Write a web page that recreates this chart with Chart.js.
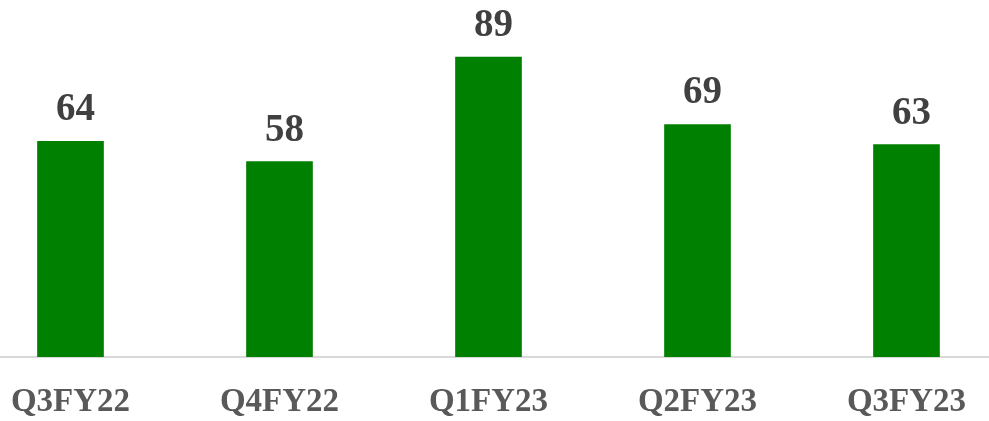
<!DOCTYPE html>
<html>
<head>
<meta charset="utf-8">
<script src="https://cdn.jsdelivr.net/npm/chart.js@4/dist/chart.umd.min.js"></script>
<style>
html,body{margin:0;padding:0;background:#fff;overflow:hidden;width:989px;height:421px;position:relative;}
canvas{display:block;position:absolute;left:-34px;top:0;}
</style>
</head>
<body>
<canvas id="c" width="1045" height="421"></canvas>
<script>
const categories = ["Q3FY22", "Q4FY22", "Q1FY23", "Q2FY23", "Q3FY23"];
const values = [64, 58, 89, 69, 63];

const FONT = "'Liberation Serif', serif";

const valueLabels = {
  id: 'valueLabels',
  afterDatasetsDraw(chart) {
    const ctx = chart.ctx;
    const meta = chart.getDatasetMeta(0);
    ctx.save();
    ctx.fillStyle = '#404040';
    ctx.font = "bold 39px " + FONT;
    ctx.textAlign = 'center';
    ctx.textBaseline = 'alphabetic';
    meta.data.forEach((bar, i) => {
      ctx.fillText(String(values[i]), bar.x + 5, bar.y - 21);
    });
    ctx.restore();
  }
};

new Chart(document.getElementById('c'), {
  type: 'bar',
  data: {
    labels: categories,
    datasets: [{
      data: values,
      backgroundColor: '#008000',
      borderWidth: 0,
      barThickness: 66
    }]
  },
  options: {
    responsive: false,
    animation: false,
    layout: { padding: { top: 20, left: 0, right: 0, bottom: 0 } },
    plugins: { legend: { display: false }, tooltip: { enabled: false } },
    scales: {
      x: {
        offset: true,
        grid: { display: false, drawTicks: false },
        border: { display: true, color: '#D9D9D9', width: 2 },
        afterFit(scale) { scale.height = 64; },
        ticks: {
          color: '#595959',
          font: { family: FONT, size: 33, weight: 'bold' },
          padding: 26,
          maxRotation: 0,
          autoSkip: false
        }
      },
      y: {
        display: false,
        min: 0,
        max: 100
      }
    }
  },
  plugins: [valueLabels]
});
</script>
</body>
</html>
